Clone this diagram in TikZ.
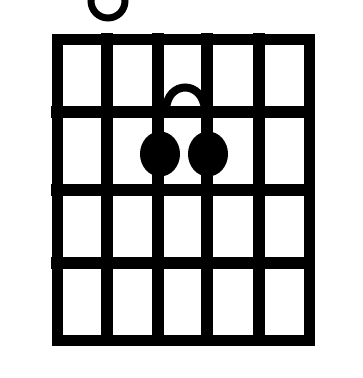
\documentclass[tikz,border=0pt]{standalone}
\usepackage{tikz}
\usetikzlibrary{shapes.geometric}
\tikzset{
  fretline/.style={draw=black, line width=11.5pt, line cap=rect},
  frame/.style={draw=black, line width=11pt, line join=miter},
  fingerdot/.style={ellipse, fill=black, inner sep=0pt, minimum width=40pt, minimum height=45pt},
  openmark/.style={circle, draw=black, line width=7pt, inner sep=0pt, minimum size=34pt},
  slur/.style={draw=black, line width=8pt},
}
\begin{document}
\begin{tikzpicture}[x=1pt, y=-1pt]
\clip (0,0) rectangle (363,378);
\fill[white] (0,0) rectangle (363,378);
% strings and frets
\foreach \sx in {107,158,207,259} \draw[fretline] (\sx,39) -- (\sx,340);
\foreach \fy in {112,190,263} \draw[fretline] (57,\fy) -- (309,\fy);
\draw[frame] (57,39) rectangle (309,340);
% open string
\node[openmark] (open2) at (108,1) {};
% fingers
\node[fingerdot] (d3) at (160,154) {};
\node[fingerdot] (d4) at (208,154) {};
\draw[slur] (166,110) .. controls (167,80) and (203,80) .. (205,110);
\end{tikzpicture}
\end{document}
